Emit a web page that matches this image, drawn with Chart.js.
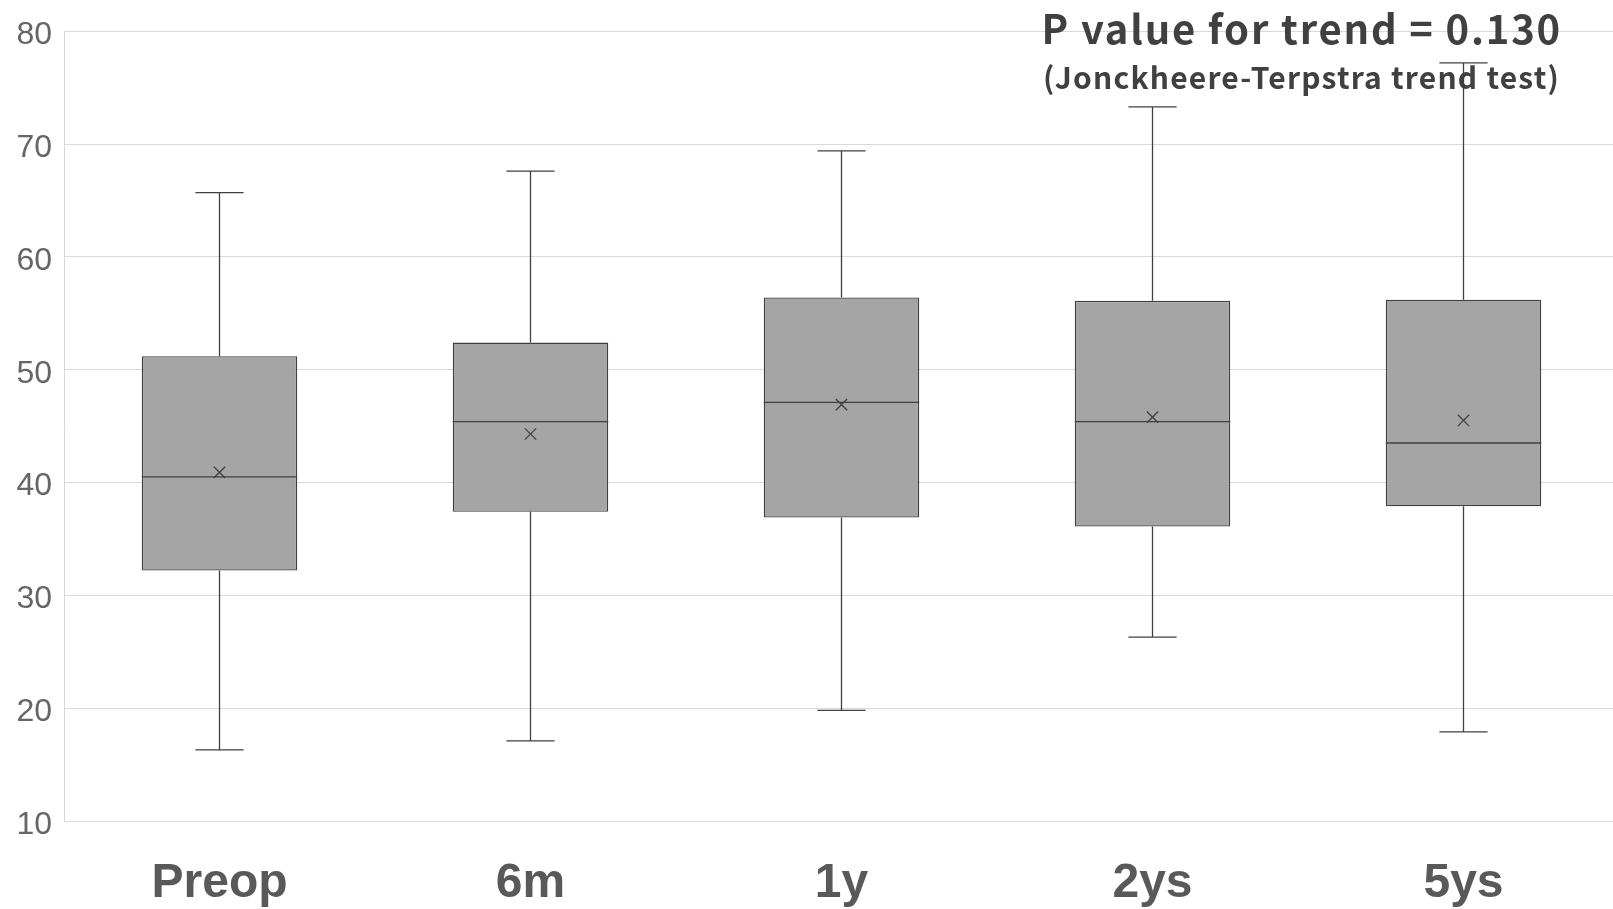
<!DOCTYPE html>
<html>
<head>
<meta charset="utf-8">
<script src="https://cdn.jsdelivr.net/npm/chart.js@4"></script>
<style>
  html, body { margin: 0; padding: 0; background: #ffffff; overflow: hidden; }
  canvas { display: block; }
</style>
</head>
<body>
<canvas id="c" width="1613" height="909" style="width:1613px;height:909px"></canvas>
<script>
// ---- data ----
const categories = ["Preop", "6m", "1y", "2ys", "5ys"];
const whiskerMin = [16.3, 17.1, 19.8, 26.3, 17.9];
const q1Values   = [32.2, 37.4, 36.9, 36.1, 37.9];
const medians    = [40.5, 45.4, 47.1, 45.4, 43.5];
const q3Values   = [51.2, 52.4, 56.4, 56.1, 56.2];
const whiskerMax = [65.7, 67.6, 69.4, 73.3, 77.2];
const means      = [40.9, 44.3, 46.9, 45.8, 45.5];
const yTicks     = [10, 20, 30, 40, 50, 60, 70, 80];
const titleLine1 = "P value for trend = 0.130";
const titleLine2 = "(Jonckheere-Terpstra trend test)";

const boxes = q1Values.map((q1, i) => [q1, q3Values[i]]);
const LINE = "#404040";

const boxPlotPlugin = {
  id: "boxPlotExtras",
  afterLayout(chart) {
    // the reference's category band runs slightly past the right canvas edge
    const x = chart.scales.x;
    x.right = x.left + 1555;
    x.width = 1555;
    x.configure();
  },
  afterDatasetsDraw(chart) {
    const ctx = chart.ctx;
    const y = chart.scales.y;
    const meta = chart.getDatasetMeta(0);
    ctx.save();
    ctx.strokeStyle = LINE;
    ctx.lineWidth = 1.3;
    meta.data.forEach((bar, i) => {
      const cx = bar.x;
      const half = bar.width / 2;
      const capHalf = bar.width * 0.155;
      const yMin = y.getPixelForValue(whiskerMin[i]);
      const yQ1 = y.getPixelForValue(q1Values[i]);
      const yQ3 = y.getPixelForValue(q3Values[i]);
      const yMax = y.getPixelForValue(whiskerMax[i]);
      const yMed = y.getPixelForValue(medians[i]);
      ctx.beginPath();
      ctx.moveTo(cx, yQ3); ctx.lineTo(cx, yMax);
      ctx.moveTo(cx - capHalf, yMax); ctx.lineTo(cx + capHalf, yMax);
      ctx.moveTo(cx, yQ1); ctx.lineTo(cx, yMin);
      ctx.moveTo(cx - capHalf, yMin); ctx.lineTo(cx + capHalf, yMin);
      ctx.moveTo(cx - half, yMed); ctx.lineTo(cx + half, yMed);
      ctx.stroke();
    });
    ctx.restore();
  },
  afterDraw(chart) {
    const ctx = chart.ctx;
    ctx.save();
    ctx.fillStyle = "#404040";
    ctx.textAlign = "right";
    ctx.textBaseline = "alphabetic";
    ctx.font = "bold 40px 'Noto Sans CJK JP'";
    ctx.letterSpacing = "1.8px";
    ctx.fillText(titleLine1, 1562, 44);
    ctx.font = "bold 30px 'Noto Sans CJK JP'";
    ctx.letterSpacing = "1.2px";
    ctx.fillText(titleLine2, 1560, 89);
    ctx.restore();
  }
};

new Chart(document.getElementById("c"), {
  type: "bar",
  data: {
    labels: categories,
    datasets: [
      {
        type: "bar",
        data: boxes,
        backgroundColor: "#a5a5a5",
        borderColor: LINE,
        borderWidth: 1.3,
        borderSkipped: false,
        barPercentage: 0.5,
        categoryPercentage: 1.0,
        order: 2
      },
      {
        type: "line",
        data: means,
        showLine: false,
        pointStyle: "crossRot",
        pointRadius: 8,
        pointBorderWidth: 1.3,
        pointBorderColor: LINE,
        pointBackgroundColor: LINE,
        order: 1
      }
    ]
  },
  options: {
    responsive: false,
    animation: false,
    layout: { autoPadding: false, padding: { top: 31, right: 0, left: 0, bottom: 0 } },
    plugins: { legend: { display: false }, tooltip: { enabled: false }, title: { display: false } },
    scales: {
      x: {
        offset: true,
        grid: { display: false, drawTicks: false },
        border: { display: false },
        ticks: {
          color: "#595959",
          padding: 34,
          font: { family: "'Liberation Sans', Arial, sans-serif", size: 48, weight: "bold" }
        },
        afterFit(scale) { scale.height = 88; scale.paddingLeft = 0; scale.paddingRight = 0; }
      },
      y: {
        min: 10,
        max: 80,
        afterBuildTicks(scale) { scale.ticks = yTicks.map(v => ({ value: v })); },
        grid: { color: "#d9d9d9", lineWidth: 1, drawTicks: false },
        border: { display: true, color: "#d9d9d9", width: 1 },
        ticks: {
          color: "#666666",
          padding: 12,
          labelOffset: 4,
          font: { family: "'Liberation Sans', Arial, sans-serif", size: 32 }
        },
        afterFit(scale) { scale.width = 64; }
      }
    }
  },
  plugins: [boxPlotPlugin]
});
</script>
</body>
</html>
